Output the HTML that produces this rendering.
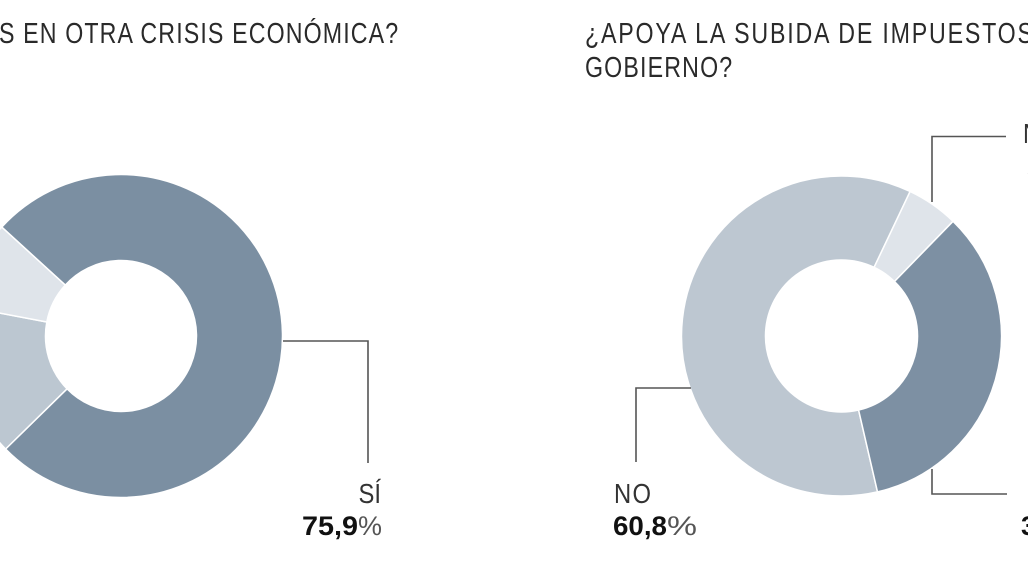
<!DOCTYPE html>
<html>
<head>
<meta charset="utf-8">
<style>
  html, body { margin: 0; padding: 0; background: #ffffff; }
  body { width: 1028px; height: 578px; overflow: hidden; }
  svg { display: block; }
  .t { font-family: "Liberation Sans", "DejaVu Sans", sans-serif; fill: #2a2a2a; }
  .lab { font-family: "Liberation Sans", "DejaVu Sans", sans-serif; fill: #333; }
  .num { font-family: "Liberation Sans", "DejaVu Sans", sans-serif; fill: #111; font-weight: bold; }
  .pct { font-weight: normal; fill: #555; }
</style>
</head>
<body>
<svg width="1028" height="578" viewBox="0 0 1028 578" xmlns="http://www.w3.org/2000/svg">
  <rect x="0" y="0" width="1028" height="578" fill="#ffffff"/>

  <!-- Titles -->
  <g transform="translate(-1,0) scale(0.8,1)">
    <text class="t" x="0" y="43" font-size="29" textLength="499" lengthAdjust="spacing">S EN OTRA CRISIS ECONÓMICA?</text>
  </g>
  <g transform="translate(585,0) scale(0.8,1)">
    <text class="t" x="0" y="43" font-size="29" textLength="560" lengthAdjust="spacing">¿APOYA LA SUBIDA DE IMPUESTOS</text>
    <text class="t" x="0" y="77" font-size="29" textLength="184" lengthAdjust="spacing">GOBIERNO?</text>
  </g>

  <!-- Left donut -->
  <g stroke="#ffffff" stroke-width="1.5" stroke-linejoin="round">
    <path fill="#7b8fa2" d="M1.73,227.10 A161.5,161.5 0 1 1 5.61,449.00 L67.06,388.83 A75.5,75.5 0 1 0 65.24,285.09 Z"/>
    <path fill="#bcc7d1" d="M5.61,449.00 A161.5,161.5 0 0 1 -37.69,306.01 L46.81,321.98 A75.5,75.5 0 0 0 67.06,388.83 Z"/>
    <path fill="#dfe4ea" d="M-37.69,306.01 A161.5,161.5 0 0 1 1.73,227.10 L65.24,285.09 A75.5,75.5 0 0 0 46.81,321.98 Z"/>
  </g>

  <!-- Right donut -->
  <g stroke="#ffffff" stroke-width="1.5" stroke-linejoin="round">
    <path fill="#bdc7d1" d="M877.50,491.90 A160,160 0 1 1 910.12,191.47 L874.10,267.35 A76,76 0 1 0 858.60,410.05 Z"/>
    <path fill="#dfe4ea" d="M910.12,191.47 A160,160 0 0 1 953.05,221.30 L894.49,281.52 A76,76 0 0 0 874.10,267.35 Z"/>
    <path fill="#7d90a3" d="M953.05,221.30 A160,160 0 0 1 877.50,491.90 L858.60,410.05 A76,76 0 0 0 894.49,281.52 Z"/>
  </g>

  <!-- Leader lines -->
  <g fill="none" stroke="#555555" stroke-width="1.6">
    <polyline points="283,341 368,341 368,463"/>
    <polyline points="691,388 636,388 636,462"/>
    <polyline points="932,469 932,494 1007,494"/>
    <polyline points="932,202 932,136.5 1006,136.5"/>
  </g>

  <!-- Left labels -->
  <g transform="translate(381,0) scale(0.85,1)">
    <text class="lab" x="0" y="503" font-size="28" text-anchor="end">SÍ</text>
  </g>
  <text class="num" x="302" y="535" font-size="27"><tspan textLength="56" lengthAdjust="spacingAndGlyphs">75,9</tspan><tspan class="pct" textLength="24" lengthAdjust="spacingAndGlyphs">%</tspan></text>

  <!-- Right labels -->
  <g transform="translate(614,0) scale(0.85,1)">
    <text class="lab" x="0" y="503" font-size="28" textLength="43.5" lengthAdjust="spacing">NO</text>
  </g>
  <text class="num" x="613" y="535" font-size="27"><tspan textLength="54" lengthAdjust="spacingAndGlyphs">60,8</tspan><tspan class="pct" textLength="30" lengthAdjust="spacingAndGlyphs">%</tspan></text>

  <g transform="translate(1023,0) scale(0.85,1)">
    <text class="lab" x="0" y="143" font-size="28">NS/NC</text>
  </g>
  <text class="num" x="1027" y="178" font-size="27">5,2<tspan class="pct">%</tspan></text>

  <text class="num" x="1021" y="535" font-size="27">34,0<tspan class="pct">%</tspan></text>
</svg>
</body>
</html>
